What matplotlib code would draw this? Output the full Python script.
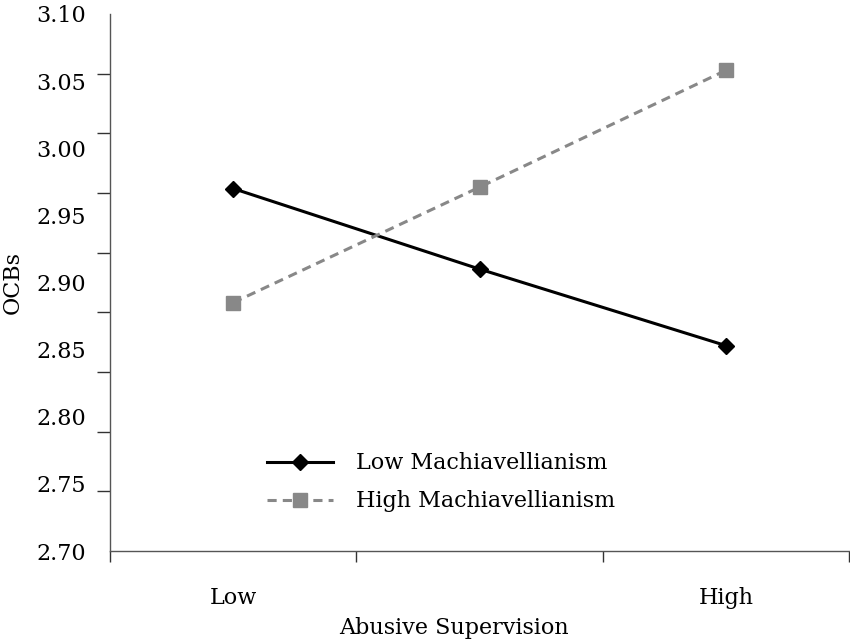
import numpy as np
import matplotlib
matplotlib.use("Agg")
import matplotlib.pyplot as plt
from matplotlib.ticker import FixedLocator

categories = ["Low", "", "High"]
low_mach = [2.970, 2.910, 2.853]
high_mach = [2.885, 2.971, 3.058]
y_labels = ["2.70", "2.75", "2.80", "2.85", "2.90", "2.95", "3.00", "3.05", "3.10"]
y_values = [2.70, 2.75, 2.80, 2.85, 2.90, 2.95, 3.00, 3.05, 3.10]

plt.rcParams['font.family'] = ['DejaVu Serif']
fs = 16

fig = plt.figure(figsize=(8.5, 6.42), dpi=100)
ax = fig.add_axes([110/850, 1-551/642, 739/850, (551-14)/642])

xpos = np.arange(len(categories)) + 0.5
ax.plot(xpos, low_mach, color='black', lw=2.2, marker='D', ms=8.5,
        label='Low Machiavellianism', zorder=3)
ax.plot(xpos, high_mach, color='#888888', lw=2.2, ls=(0, (3, 2)), marker='s',
        ms=9.5, mfc='#888888', mec='#888888', label='High Machiavellianism', zorder=3)

ax.set_xlim(0, 3)
ax.set_ylim(2.70, 3.10)

ax.set_xticks(xpos)
ax.set_xticklabels(categories, fontsize=fs)
ax.xaxis.set_minor_locator(FixedLocator([0, 1, 2, 3]))
ax.tick_params(axis='x', which='major', length=0, pad=26)
ax.tick_params(axis='x', which='minor', length=8, width=1.0, color='#333333', direction='out')

ax.set_yticks(y_values)
ax.set_yticklabels(y_labels, fontsize=fs)
ax.yaxis.set_minor_locator(FixedLocator(np.linspace(2.70, 3.10, 10)))
ax.tick_params(axis='y', which='major', length=0, pad=17)
ax.tick_params(axis='y', which='minor', length=9.5, width=1.0, color='#333333', direction='out')

for s in ['top', 'right']:
    ax.spines[s].set_visible(False)
for s in ['left', 'bottom']:
    ax.spines[s].set_color('#555555')
    ax.spines[s].set_linewidth(1.0)

ax.set_ylabel('OCBs', fontsize=fs)
ax.yaxis.set_label_coords(-0.117, 0.5)
ax.set_xlabel('Abusive Supervision', fontsize=fs)
ax.xaxis.set_label_coords(0.465, -0.122)

leg = ax.legend(loc='upper left', bbox_to_anchor=(0.2, 0.20), frameon=False,
                fontsize=fs, handlelength=3.0, handletextpad=1.0, labelspacing=0.72,
                borderaxespad=0)

fig.savefig('out.png', dpi=100)
